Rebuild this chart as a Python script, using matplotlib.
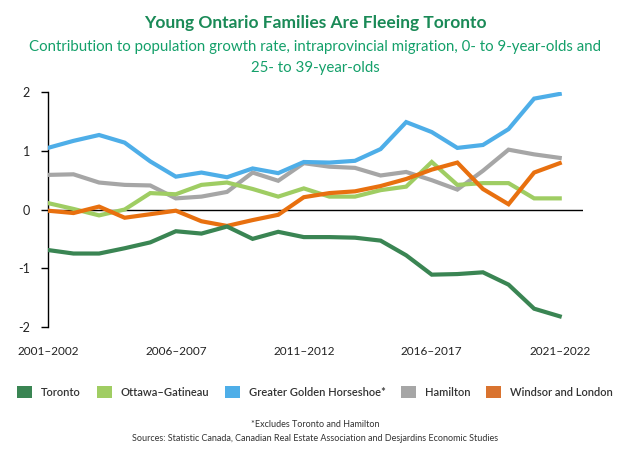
import matplotlib.pyplot as plt
from matplotlib.patches import Patch
import numpy as np

plt.rcParams['font.family'] = ['Lato', 'DejaVu Sans']

# periods 2001-2002 ... 2021-2022
periods = ['%d\u2013%d' % (y, y + 1) for y in range(2001, 2022)]
tick_idx = [0, 5, 10, 15, 20]

toronto = [-0.69, -0.75, -0.75, -0.66, -0.56, -0.37, -0.41, -0.29, -0.50, -0.38,
           -0.47, -0.47, -0.48, -0.53, -0.78, -1.11, -1.10, -1.07, -1.28, -1.69, -1.82]
ottawa = [0.11, 0.01, -0.10, 0.00, 0.28, 0.26, 0.42, 0.46, 0.35, 0.22,
          0.36, 0.22, 0.22, 0.33, 0.39, 0.81, 0.42, 0.45, 0.45, 0.19, 0.19]
ggh = [1.05, 1.17, 1.27, 1.14, 0.82, 0.56, 0.63, 0.55, 0.70, 0.62,
       0.81, 0.80, 0.83, 1.03, 1.49, 1.32, 1.05, 1.10, 1.37, 1.89, 1.97]
hamilton = [0.59, 0.60, 0.46, 0.42, 0.41, 0.19, 0.22, 0.30, 0.63, 0.49,
            0.79, 0.73, 0.71, 0.58, 0.64, 0.50, 0.34, 0.66, 1.02, 0.94, 0.88]
windsor = [-0.02, -0.06, 0.05, -0.14, -0.08, -0.02, -0.20, -0.28, -0.18, -0.09,
           0.21, 0.28, 0.31, 0.40, 0.52, 0.68, 0.80, 0.35, 0.09, 0.63, 0.79]

series = [
    ('Toronto', toronto, '#3a8553'),
    ('Ottawa\u2013Gatineau', ottawa, '#9fcd63'),
    ('Greater Golden Horseshoe*', ggh, '#4eaee8'),
    ('Hamilton', hamilton, '#a6a6a6'),
    ('Windsor and London', windsor, '#e8700f'),
]
legend_colors = ['#3a8553', '#a0cd63', '#4eaee8', '#a6a6a6', '#d9732f']

fig = plt.figure(figsize=(6.3, 4.54), dpi=100)
ax = fig.add_axes([0.076, 0.280, 0.849, 0.517])

x = np.arange(len(periods))
# draw order: back to front
for name, vals, col in [series[3], series[1], series[2], series[4], series[0]]:
    ax.plot(x, vals, color=col, lw=3.0, solid_joinstyle='miter', zorder=3)

ax.axhline(0, color='black', lw=1.0, zorder=2)
ax.set_xlim(0, 20.9)
ax.set_ylim(-2, 2)
ax.set_yticks([-2, -1, 0, 1, 2])
ax.set_yticklabels(['-2', '-1', '0', '1', '2'])
ax.set_xticks(tick_idx)
ax.set_xticklabels([periods[i] for i in tick_idx])

for s in ['top', 'right', 'bottom']:
    ax.spines[s].set_visible(False)
ax.spines['left'].set_linewidth(1.0)
ax.tick_params(axis='y', length=5, width=1, labelsize=9, pad=8, labelcolor='#222222', color='black')
ax.tick_params(axis='x', length=0, labelsize=8.5, pad=14, labelcolor='#222222')

fig.text(0.5, 0.950, 'Young Ontario Families Are Fleeing Toronto', ha='center', va='center',
         fontsize=12.5, fontweight='bold', color='#1a8a57')
fig.text(0.5, 0.897, 'Contribution to population growth rate, intraprovincial migration, 0- to 9-year-olds and',
         ha='center', va='center', fontsize=10.8, color='#14a06a')
fig.text(0.5, 0.850, '25- to 39-year-olds', ha='center', va='center', fontsize=10.8, color='#14a06a')

handles = [Patch(facecolor=c, edgecolor='none', label=s[0]) for s, c in zip(series, legend_colors)]
fig.legend(handles=handles, loc='center', bbox_to_anchor=(0.5, 0.137), ncol=5, frameon=False,
           prop={'size': 8, 'weight': 'semibold'}, handlelength=1.35, handleheight=1.35,
           handletextpad=0.8, columnspacing=1.4, labelcolor='#333333')

fig.text(0.5, 0.066, '*Excludes Toronto and Hamilton', ha='center', va='center', fontsize=6.5, color='#333333')
fig.text(0.5, 0.035, 'Sources: Statistic Canada, Canadian Real Estate Association and Desjardins Economic Studies',
         ha='center', va='center', fontsize=6.5, color='#333333')

fig.savefig('out.png', dpi=100)
